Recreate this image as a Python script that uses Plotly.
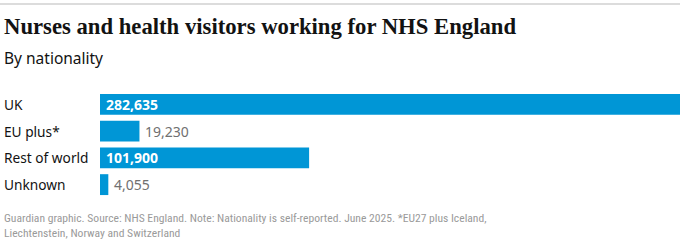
import plotly.graph_objects as go

categories = ["UK", "EU plus*", "Rest of world", "Unknown"]
values = [282635, 19230, 101900, 4055]
value_labels = ["282,635", "19,230", "101,900", "4,055"]
label_inside = [True, False, True, False]

title = "Nurses and health visitors working for NHS England"
subtitle = "By nationality"
footer_lines = ["Guardian graphic. Source: NHS England. Note: Nationality is self-reported. June 2025. *EU27 plus Iceland,",
                "Liechtenstein, Norway and Switzerland"]

W, H = 680, 252
L, R, T, B = 100, 0, 91, 54
pw = W - L - R
ph = H - T - B

BLUE = "#0096d6"
DARK = "#121212"

fig = go.Figure()
fig.add_trace(go.Bar(
    x=values, y=categories, orientation="h",
    marker=dict(color=BLUE, line=dict(width=0)),
    hoverinfo="skip",
))

# value labels
for c, v, lab, ins in zip(categories, values, value_labels, label_inside):
    if ins:
        fig.add_annotation(x=0, y=c, xref="x", yref="y", text=f"<b>{lab}</b>", showarrow=False,
                           xanchor="left", xshift=4,
                           font=dict(size=14, color="white", family="Noto Sans"))
    else:
        fig.add_annotation(x=v, y=c, xref="x", yref="y", text=lab, showarrow=False,
                           xanchor="left", xshift=4,
                           font=dict(size=14, color="#707070", family="Noto Sans"))

# category labels
for c in categories:
    fig.add_annotation(x=-98 / pw, xref="paper", y=c, yref="y", text=c,
                       xanchor="left", showarrow=False,
                       font=dict(size=13.7, color=DARK, family="Noto Sans"))


def fig_px(px, py):
    """convert figure pixel coordinates to paper coordinates"""
    return (px - L) / pw, 1 - (py - T) / ph


x, y = fig_px(2, 26)
fig.add_annotation(x=x, y=y, xref="paper", yref="paper", text=f"<b>{title}</b>",
                   showarrow=False, xanchor="left", yanchor="middle",
                   font=dict(size=22.7, color=DARK, family="Liberation Serif"))
x, y = fig_px(2, 58)
fig.add_annotation(x=x, y=y, xref="paper", yref="paper", text=subtitle,
                   showarrow=False, xanchor="left", yanchor="middle",
                   font=dict(size=15.5, color=DARK, family="Noto Sans"))
for i, line in enumerate(footer_lines):
    x, y = fig_px(2, 218 + 15 * i)
    fig.add_annotation(x=x, y=y, xref="paper", yref="paper", text=line,
                       showarrow=False, xanchor="left", yanchor="middle", align="left",
                       font=dict(size=11.6, color="#9a9a9a", family="Roboto Condensed"))

fig.add_shape(type="line", xref="paper", yref="paper", x0=fig_px(0, 0)[0], x1=1,
              y0=fig_px(0, 4)[1], y1=fig_px(0, 4)[1],
              line=dict(color="#dcdcdc", width=2))

fig.update_layout(
    width=W, height=H,
    margin=dict(l=L, r=R, t=T, b=B, autoexpand=False),
    paper_bgcolor="white", plot_bgcolor="white",
    showlegend=False, bargap=0.22,
    xaxis=dict(range=[0, max(values)], visible=False, fixedrange=True),
    yaxis=dict(autorange="reversed", showticklabels=False, showgrid=False, zeroline=False,
               fixedrange=True),
)

fig.write_html("out.html", config={"displayModeBar": False})
